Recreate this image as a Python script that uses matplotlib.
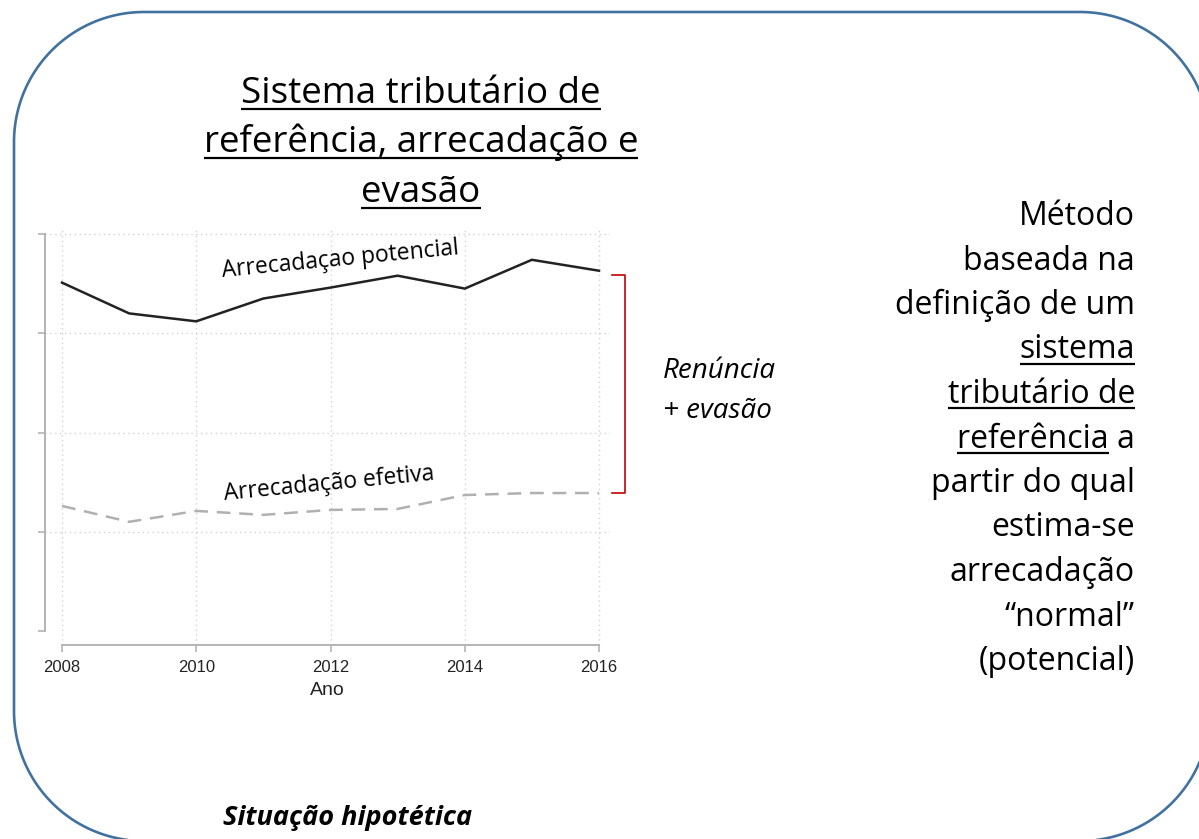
import matplotlib
matplotlib.use("Agg")
import numpy as np
import matplotlib.pyplot as plt
import matplotlib.transforms as mtransforms
from matplotlib.patches import Polygon
from matplotlib.lines import Line2D

# ---------------- data ----------------
years = [2008, 2009, 2010, 2011, 2012, 2013, 2014, 2015, 2016]
potencial = [3.51, 3.20, 3.12, 3.35, 3.46, 3.58, 3.45, 3.74, 3.63]
efetiva = [1.26, 1.10, 1.21, 1.17, 1.22, 1.23, 1.37, 1.39, 1.39]
xticks = [2008, 2010, 2012, 2014, 2016]
yticks = [0, 1, 2, 3, 4]

title_lines = ["Sistema tributário de", "referência, arrecadação e", "evasão"]
label_pot = "Arrecadaçao potencial"
label_efe = "Arrecadação efetiva"
bracket_text = ["Renúncia", "+ evasão"]
side_lines = ["Método", "baseada na", "definição de um", "sistema",
              "tributário de", "referência a", "partir do qual", "estima-se",
              "arrecadação", "“normal”", "(potencial)"]
side_underlined = {"sistema": "sistema", "tributário de": "tributário de",
                   "referência a": "referência"}
footer = "Situação hipotética"
xlabel = "Ano"

# ---------------- figure ----------------
W, H = 1199, 839
fig = plt.figure(figsize=(W / 100, H / 100), dpi=100)
fig.patch.set_facecolor("white")
# pixel transform with origin at top-left
px = mtransforms.Affine2D().scale(1 / W, -1 / H).translate(0, 1) + fig.transFigure

# rounded frame built from circular arcs (top-left pixel coords)
fx0, fy0, fx1, fy1, rad = 14, 12, 1210, 841, 130
corners = [((fx0 + rad, fy0 + rad), 180, 270),
           ((fx1 - rad, fy0 + rad), 270, 360),
           ((fx1 - rad, fy1 - rad), 0, 90),
           ((fx0 + rad, fy1 - rad), 90, 180)]
pts = []
for (cx, cy), a0, a1 in corners:
    th = np.radians(np.linspace(a0, a1, 60))
    pts.extend(zip(cx + rad * np.cos(th), cy + rad * np.sin(th)))
frame = Polygon(pts, closed=True, transform=px, fill=False,
                edgecolor="#41729f", linewidth=1.9, clip_on=False)
fig.add_artist(frame)

# ---------------- axes ----------------
ax_l, ax_r, ax_t, ax_b = 45, 610, 230, 645
ax = fig.add_axes([ax_l / W, 1 - ax_b / H, (ax_r - ax_l) / W, (ax_b - ax_t) / H])
ax.set_facecolor("none")
ppy = 537 / 8.0  # pixels per year
ppv = 99.25      # pixels per unit
ax.set_xlim(2008 - (62 - ax_l) / ppy, 2016 + (ax_r - 599) / ppy)
ax.set_ylim(-(ax_b - 631) / ppv, (631 - ax_t) / ppv)

ax.plot(years, potencial, color="#222222", lw=1.8, solid_joinstyle="miter")
ax.plot(years, efetiva, color="#b0b0b0", lw=1.8, ls=(0, (5.5, 3.5)))

for s in ["top", "right"]:
    ax.spines[s].set_visible(False)
for s in ["left", "bottom"]:
    ax.spines[s].set_color("#b4b4b4")
    ax.spines[s].set_linewidth(1.4)
ax.spines["left"].set_bounds(0, 4)
ax.spines["bottom"].set_bounds(2008, 2016)

ax.set_xticks(xticks)
ax.set_xticklabels([str(x) for x in xticks], family="Liberation Sans", fontsize=12)
ax.set_yticks(yticks)
ax.set_yticklabels([])
ax.tick_params(axis="both", colors="#b4b4b4", length=5, width=1.2, labelcolor="#222222")
ax.tick_params(axis="x", pad=5.5)
ax.grid(True, linestyle=(0, (1, 2.5)), color="#d2d2d2", linewidth=1.0)
ax.get_ygridlines()[0].set_visible(False)
ax.set_axisbelow(True)
ax.set_xlabel(xlabel, family="Liberation Sans", fontsize=14, labelpad=5, color="#222222")

# bracket
bx0 = 2016 + 13 / ppy
bx1 = 2016 + 26 / ppy
ytop = potencial[-1] - 0.04
ybot = efetiva[-1]
ax.plot([bx0, bx1, bx1, bx0], [ytop, ytop, ybot, ybot], color="#c00000", lw=1.2,
        clip_on=False)

# rotated labels
ax.text(2012.15, 3.74, label_pot, rotation=5.5, ha="center", va="center",
        family="Open Sans", fontsize=16.5, rotation_mode="anchor")
ax.text(2011.98, 1.48, label_efe, rotation=5.5, ha="center", va="center",
        family="Open Sans", fontsize=16.5, rotation_mode="anchor")

# ---------------- text ----------------
FONT = "Open Sans"
fig.canvas.draw()
renderer = fig.canvas.get_renderer()


def underline(x0, x1, baseline, off=5, lw=2.2):
    y = baseline + off
    fig.add_artist(Line2D([x0, x1], [y, y], transform=px, color="black",
                          linewidth=lw * 72 / 100, solid_capstyle="butt"))


def text_width(s, **kw):
    t = fig.text(0, 0, s, transform=px, **kw)
    w = t.get_window_extent(renderer).width
    t.remove()
    return w


# title
title_kw = dict(family=FONT, fontsize=26.5, color="black")
for s, base in zip(title_lines, [103, 152, 202]):
    t = fig.text(421, base, s, transform=px, ha="center", va="baseline", **title_kw)
    bb = t.get_window_extent(renderer)
    underline(bb.x0, bb.x1, base, off=5.5)

# right side text
side_kw = dict(family=FONT, fontsize=23, color="black")
base0, step = 225, 44.5
for i, s in enumerate(side_lines):
    base = base0 + i * step
    t = fig.text(1135, base, s, transform=px, ha="right", va="baseline", **side_kw)
    if s in side_underlined:
        bb = t.get_window_extent(renderer)
        w = text_width(side_underlined[s], **side_kw)
        underline(bb.x0, bb.x0 + w, base, off=5)

# bracket annotation
for s, base in zip(bracket_text, [378, 418]):
    fig.text(663, base, s, transform=px, ha="left", va="baseline",
             family=FONT, style="italic", fontsize=20)

# footer
fig.text(348, 825, footer, transform=px, ha="center", va="baseline",
         family=FONT, style="italic", weight="bold", fontsize=19.5)

fig.savefig("out.png", dpi=100, facecolor="white")
